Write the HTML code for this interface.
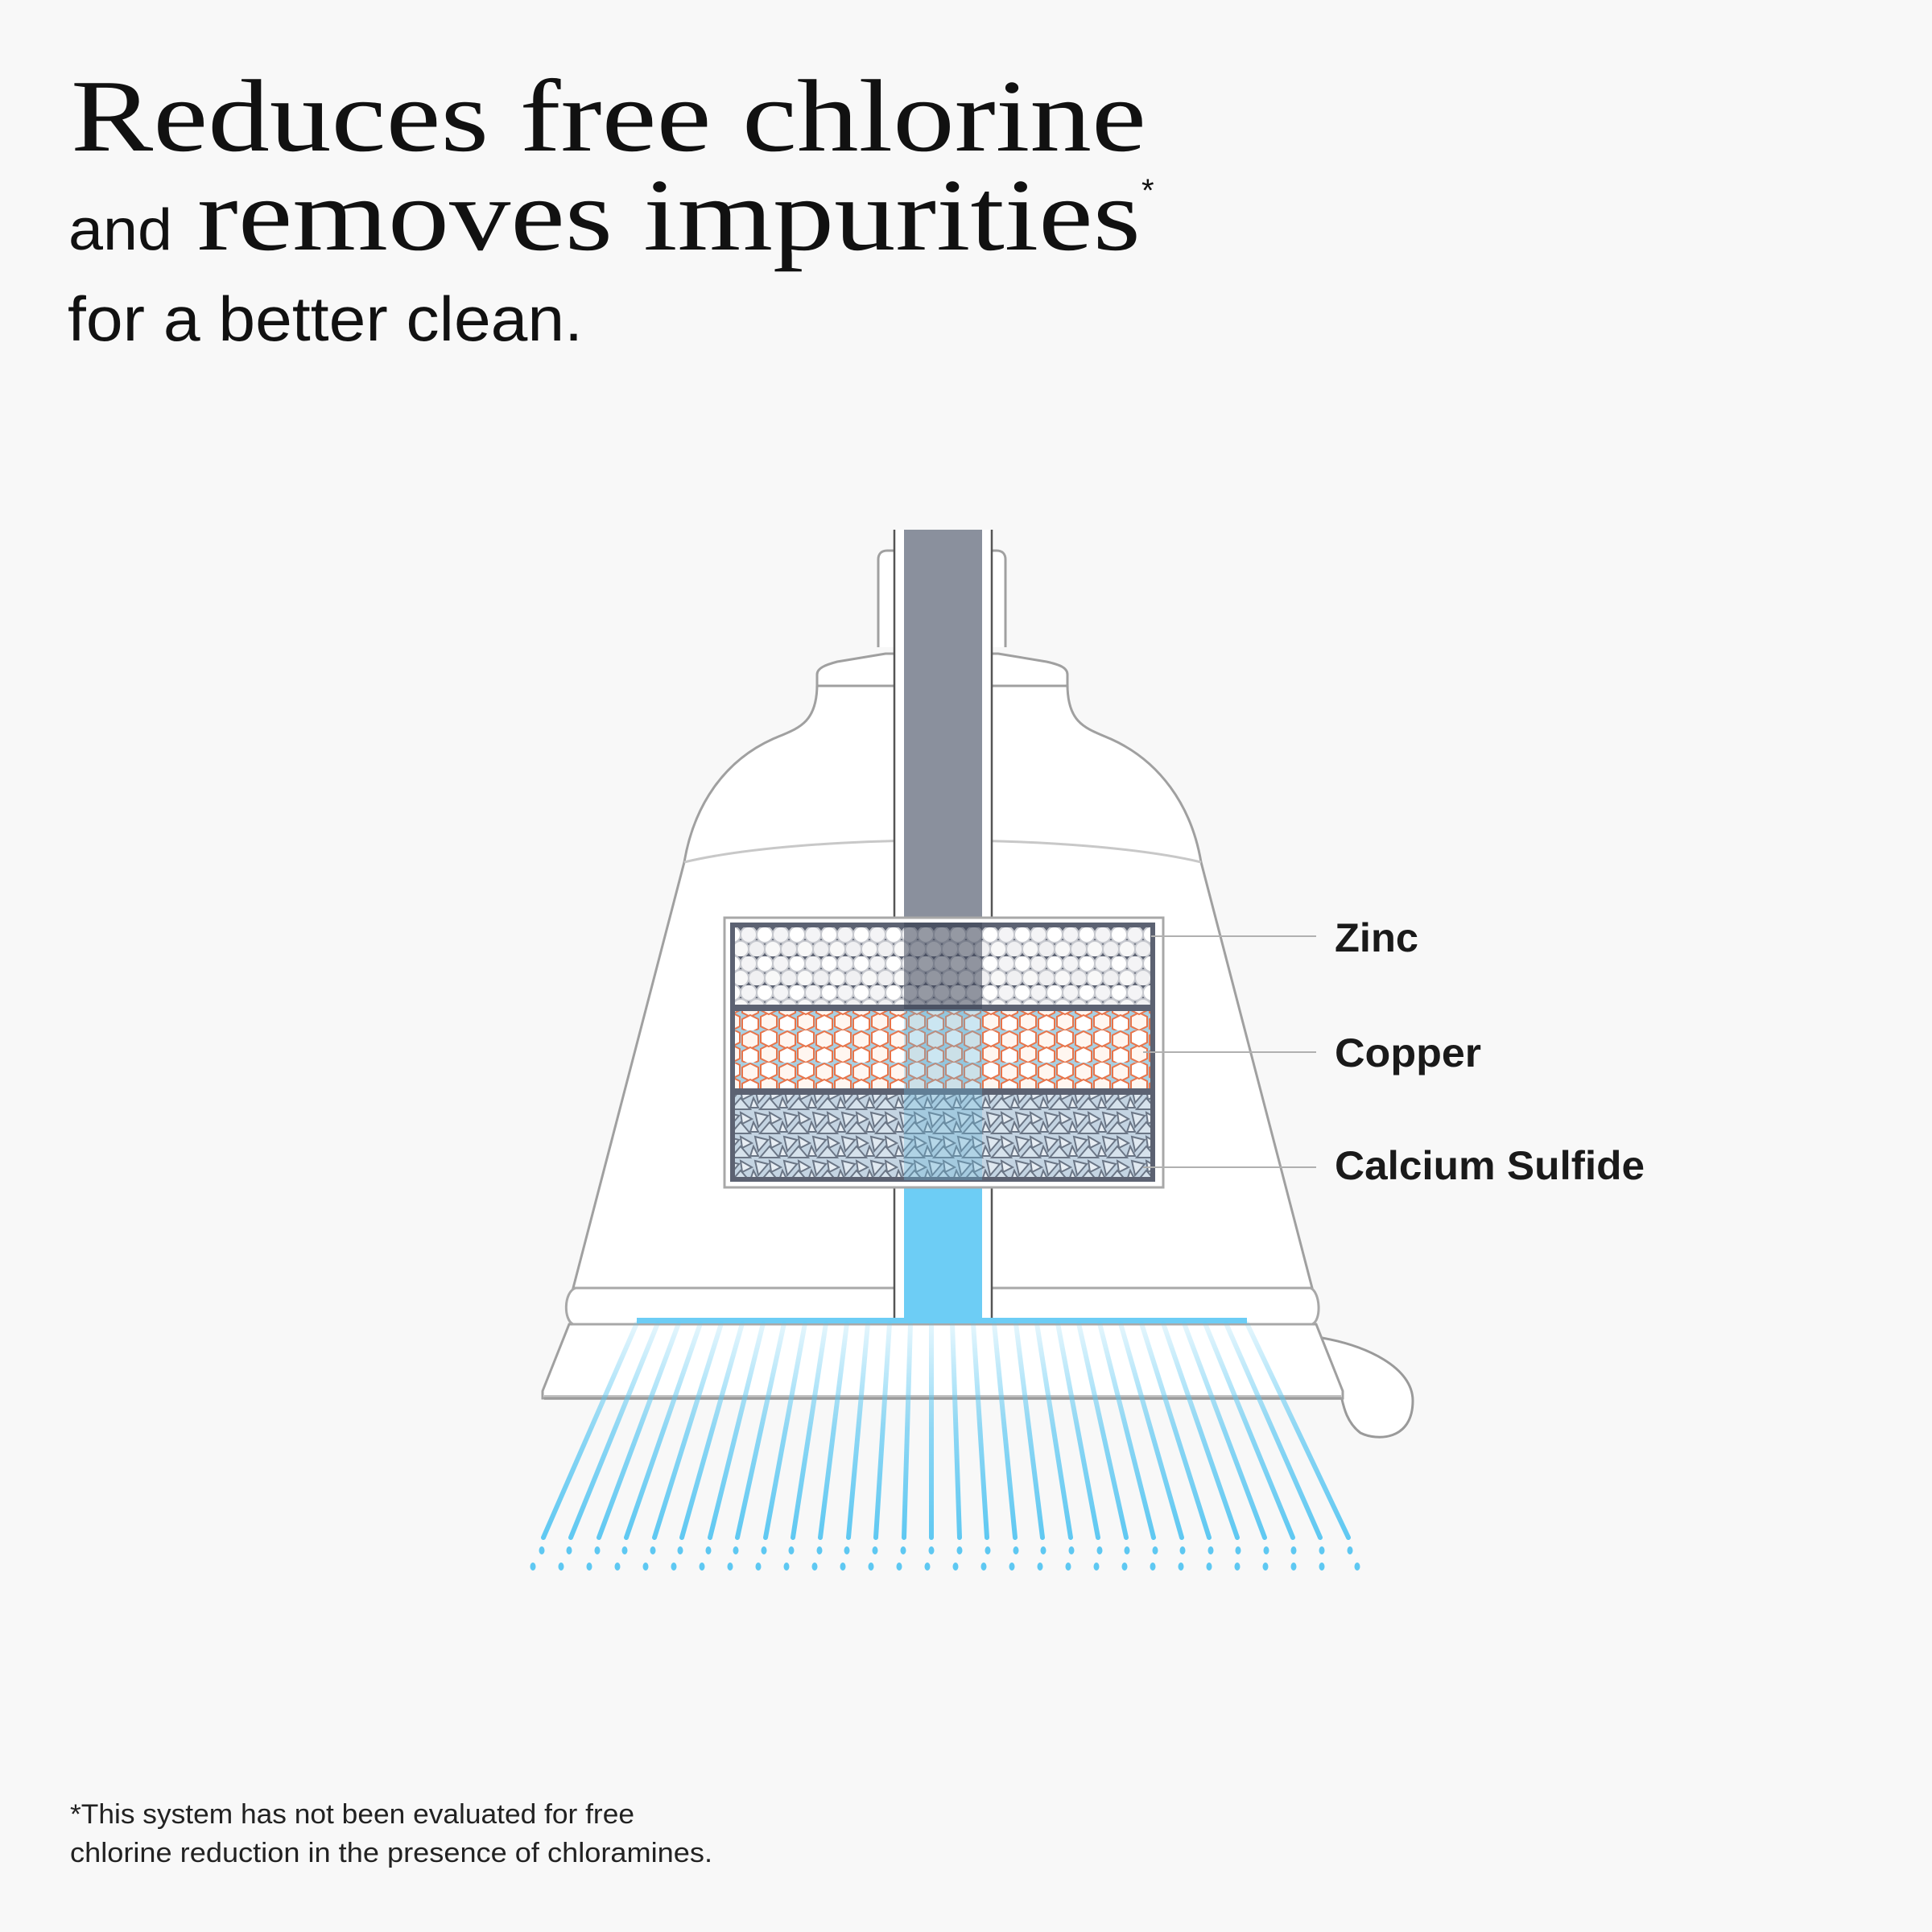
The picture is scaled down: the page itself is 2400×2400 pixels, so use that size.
<!DOCTYPE html>
<html><head><meta charset="utf-8"><style>
html,body{margin:0;padding:0;background:#f8f8f8}
svg{display:block}
</style></head><body>
<svg width="2400" height="2400" viewBox="0 0 2400 2400" xmlns="http://www.w3.org/2000/svg">
<defs>
<pattern id="zinc" width="40" height="36" patternUnits="userSpaceOnUse">
<rect width="40" height="36" fill="#5d6373"/>
<circle cx="10" cy="9" r="10" fill="#f4f4f6" stroke="#c8cad0" stroke-width="2"/>
<circle cx="30" cy="9" r="10" fill="#ffffff" stroke="#c8cad0" stroke-width="2"/>
<circle cx="20" cy="27" r="10" fill="#f0f0f2" stroke="#c8cad0" stroke-width="2"/>
<circle cx="0" cy="27" r="10" fill="#f8f8f8" stroke="#c8cad0" stroke-width="2"/>
<circle cx="40" cy="27" r="10" fill="#f8f8f8" stroke="#c8cad0" stroke-width="2"/>
</pattern>
<pattern id="copper" width="46" height="40" patternUnits="userSpaceOnUse">
<rect width="46" height="40" fill="#a8d0e2"/>
<polygon points="12,1 22,6 22,18 12,23 2,18 2,6" fill="#fff6f0" stroke="#e8744a" stroke-width="2"/>
<polygon points="35,18 45,23 45,35 35,40 25,35 25,23" fill="#fff6f0" stroke="#e8744a" stroke-width="2"/>
<polygon points="12,21 22,26 22,38 12,43 2,38 2,26" fill="#ffffff" stroke="#e8744a" stroke-width="2"/>
<polygon points="35,-2 45,3 45,15 35,20 25,15 25,3" fill="#ffffff" stroke="#e8744a" stroke-width="2"/>
</pattern>
<pattern id="calc" width="36" height="30" patternUnits="userSpaceOnUse">
<rect width="36" height="30" fill="#c4d4e2"/>
<polygon points="2,2 18,6 6,20" fill="#dfe8f0" stroke="#6a7585" stroke-width="2"/>
<polygon points="20,2 34,10 22,16" fill="#e8eef4" stroke="#6a7585" stroke-width="2"/>
<polygon points="8,28 20,14 32,28" fill="#d6e2ec" stroke="#6a7585" stroke-width="2"/>
<polygon points="0,14 6,26 -4,26" fill="#e8eef4" stroke="#6a7585" stroke-width="2"/>
<polygon points="36,14 42,26 32,26" fill="#e8eef4" stroke="#6a7585" stroke-width="2"/>
</pattern>
<linearGradient id="sprayg" x1="0" y1="1641" x2="0" y2="1915" gradientUnits="userSpaceOnUse">
<stop offset="0" stop-color="#5ec8f2" stop-opacity="0.15"/>
<stop offset="0.5" stop-color="#5ec8f2" stop-opacity="0.7"/>
<stop offset="1" stop-color="#5ec8f2" stop-opacity="1"/>
</linearGradient>
</defs>
<rect width="2400" height="2400" fill="#f8f8f8"/>

<!-- title -->
<text x="88" y="187" font-family="Liberation Serif, serif" font-size="128" fill="#111" textLength="1336" lengthAdjust="spacingAndGlyphs">Reduces free chlorine</text>
<text x="85" y="310" font-family="Liberation Sans, sans-serif" font-size="72" fill="#111" textLength="129" lengthAdjust="spacingAndGlyphs">and</text>
<text x="245" y="310" font-family="Liberation Serif, serif" font-size="128" fill="#111" textLength="1172" lengthAdjust="spacingAndGlyphs">removes impurities</text>
<text x="1418" y="250" font-family="Liberation Sans, sans-serif" font-size="40" fill="#111">*</text>
<text x="84" y="423" font-family="Liberation Sans, sans-serif" font-size="78" fill="#111" textLength="640" lengthAdjust="spacingAndGlyphs">for a better clean.</text>

<!-- spray lines -->
<g stroke="url(#sprayg)" stroke-width="6" stroke-linecap="round">
<script>/* no script */</script>
</g>
<g id="spray"></g>

<!-- handle -->
<path d="M1630,1660 C1700,1670 1755,1700 1755,1740 C1755,1790 1710,1790 1690,1780 C1670,1765 1668,1740 1665,1730" fill="#fff" stroke="#9a9a9a" stroke-width="3"/>

<!-- skirt -->
<path d="M707,1645 L1635,1645 L1668,1728 L1668,1737 L674,1737 L674,1728 Z" fill="#fff" stroke="#a0a0a0" stroke-width="3"/>
<line x1="676" y1="1736" x2="1666" y2="1736" stroke="#999" stroke-width="6" opacity="0.6"/>

<!-- bell body -->
<path d="M1015,850 C1015,900 990,905 960,918 C900,945 862,1000 850,1071 L712,1600 L1630,1600 L1492,1071 C1480,1000 1440,945 1380,918 C1350,905 1326,900 1326,850 Z" fill="#fff" stroke="#a0a0a0" stroke-width="3"/>
<path d="M850,1071 C1000,1035 1340,1035 1492,1071" fill="none" stroke="#c8c8c8" stroke-width="3"/>
<!-- ring -->
<path d="M715,1600 L1628,1600 C1640,1605 1642,1640 1630,1645 L712,1645 C700,1640 700,1605 715,1600 Z" fill="#fff" stroke="#a8a8a8" stroke-width="3"/>
<!-- shoulder cap -->
<path d="M1015,852 L1015,838 C1015,830 1025,826 1040,822 L1100,812 L1240,812 L1300,822 C1318,826 1326,830 1326,838 L1326,852 Z" fill="#fff" stroke="#a0a0a0" stroke-width="3"/>
<!-- collar -->
<path d="M1091,804 L1091,695 C1091,688 1095,684 1102,684 L1238,684 C1245,684 1249,688 1249,695 L1249,804" fill="#fff" stroke="#a0a0a0" stroke-width="3"/>

<!-- pipe -->
<rect x="1111" y="658" width="121" height="985" fill="#fff"/>
<line x1="1111" y1="658" x2="1111" y2="1643" stroke="#555" stroke-width="2.5"/>
<line x1="1232" y1="658" x2="1232" y2="1643" stroke="#555" stroke-width="2.5"/>
<rect x="1123" y="658" width="97" height="500" fill="#8a909d"/>
<rect x="1123" y="1466" width="97" height="177" fill="#6dcdf5"/>

<!-- filter -->
<rect x="900" y="1140" width="545" height="335" fill="#fff" stroke="#a8a8a8" stroke-width="3"/>
<rect x="907" y="1146" width="528" height="322" fill="#5c6272"/>
<rect x="913" y="1152" width="516" height="96" fill="url(#zinc)"/>
<rect x="913" y="1256" width="516" height="96" fill="url(#copper)"/>
<rect x="913" y="1360" width="516" height="102" fill="url(#calc)"/>
<rect x="1123" y="1146" width="97" height="108" fill="#3e4658" opacity="0.55"/>
<rect x="1123" y="1254" width="97" height="212" fill="#6ab8da" opacity="0.35"/>

<!-- leaders -->
<g stroke="#b0b0b0" stroke-width="2">
<line x1="1430" y1="1163" x2="1635" y2="1163"/>
<line x1="1420" y1="1307" x2="1635" y2="1307"/>
<line x1="1420" y1="1450" x2="1635" y2="1450"/>
</g>
<g font-family="Liberation Sans, sans-serif" font-weight="bold" font-size="50" fill="#1a1a1a">
<text x="1658" y="1182" textLength="104" lengthAdjust="spacingAndGlyphs">Zinc</text>
<text x="1658" y="1325" textLength="182" lengthAdjust="spacingAndGlyphs">Copper</text>
<text x="1658" y="1465" textLength="385" lengthAdjust="spacingAndGlyphs">Calcium Sulfide</text>
</g>

<!-- spray bar -->
<rect x="791" y="1637" width="758" height="7" fill="#6dcdf5"/>
<g stroke="url(#sprayg)" stroke-width="6" stroke-linecap="round">
<line x1="791" y1="1644" x2="675" y2="1910"/><line x1="817" y1="1644" x2="709" y2="1910"/><line x1="843" y1="1644" x2="744" y2="1910"/><line x1="870" y1="1644" x2="778" y2="1910"/><line x1="896" y1="1644" x2="813" y2="1910"/><line x1="922" y1="1644" x2="847" y2="1910"/><line x1="948" y1="1644" x2="882" y2="1910"/><line x1="974" y1="1644" x2="916" y2="1910"/><line x1="1000" y1="1644" x2="951" y2="1910"/><line x1="1026" y1="1644" x2="985" y2="1910"/><line x1="1052" y1="1644" x2="1019" y2="1910"/><line x1="1078" y1="1644" x2="1054" y2="1910"/><line x1="1105" y1="1644" x2="1088" y2="1910"/><line x1="1131" y1="1644" x2="1123" y2="1910"/><line x1="1157" y1="1644" x2="1157" y2="1910"/><line x1="1183" y1="1644" x2="1192" y2="1910"/><line x1="1209" y1="1644" x2="1226" y2="1910"/><line x1="1235" y1="1644" x2="1261" y2="1910"/><line x1="1262" y1="1644" x2="1295" y2="1910"/><line x1="1288" y1="1644" x2="1330" y2="1910"/><line x1="1314" y1="1644" x2="1364" y2="1910"/><line x1="1340" y1="1644" x2="1399" y2="1910"/><line x1="1366" y1="1644" x2="1433" y2="1910"/><line x1="1392" y1="1644" x2="1468" y2="1910"/><line x1="1418" y1="1644" x2="1502" y2="1910"/><line x1="1445" y1="1644" x2="1537" y2="1910"/><line x1="1471" y1="1644" x2="1571" y2="1910"/><line x1="1497" y1="1644" x2="1606" y2="1910"/><line x1="1523" y1="1644" x2="1640" y2="1910"/><line x1="1549" y1="1644" x2="1675" y2="1910"/>
</g>
<g fill="#5ec8f2">
<ellipse cx="673" cy="1926" rx="3.5" ry="5"/><ellipse cx="707" cy="1926" rx="3.5" ry="5"/><ellipse cx="742" cy="1926" rx="3.5" ry="5"/><ellipse cx="776" cy="1926" rx="3.5" ry="5"/><ellipse cx="811" cy="1926" rx="3.5" ry="5"/><ellipse cx="845" cy="1926" rx="3.5" ry="5"/><ellipse cx="880" cy="1926" rx="3.5" ry="5"/><ellipse cx="914" cy="1926" rx="3.5" ry="5"/><ellipse cx="949" cy="1926" rx="3.5" ry="5"/><ellipse cx="983" cy="1926" rx="3.5" ry="5"/><ellipse cx="1018" cy="1926" rx="3.5" ry="5"/><ellipse cx="1052" cy="1926" rx="3.5" ry="5"/><ellipse cx="1087" cy="1926" rx="3.5" ry="5"/><ellipse cx="1122" cy="1926" rx="3.5" ry="5"/><ellipse cx="1157" cy="1926" rx="3.5" ry="5"/><ellipse cx="1192" cy="1926" rx="3.5" ry="5"/><ellipse cx="1227" cy="1926" rx="3.5" ry="5"/><ellipse cx="1262" cy="1926" rx="3.5" ry="5"/><ellipse cx="1296" cy="1926" rx="3.5" ry="5"/><ellipse cx="1331" cy="1926" rx="3.5" ry="5"/><ellipse cx="1366" cy="1926" rx="3.5" ry="5"/><ellipse cx="1400" cy="1926" rx="3.5" ry="5"/><ellipse cx="1435" cy="1926" rx="3.5" ry="5"/><ellipse cx="1469" cy="1926" rx="3.5" ry="5"/><ellipse cx="1504" cy="1926" rx="3.5" ry="5"/><ellipse cx="1538" cy="1926" rx="3.5" ry="5"/><ellipse cx="1573" cy="1926" rx="3.5" ry="5"/><ellipse cx="1607" cy="1926" rx="3.5" ry="5"/><ellipse cx="1642" cy="1926" rx="3.5" ry="5"/><ellipse cx="1677" cy="1926" rx="3.5" ry="5"/>
<ellipse cx="662" cy="1946" rx="3.5" ry="5"/><ellipse cx="697" cy="1946" rx="3.5" ry="5"/><ellipse cx="732" cy="1946" rx="3.5" ry="5"/><ellipse cx="767" cy="1946" rx="3.5" ry="5"/><ellipse cx="802" cy="1946" rx="3.5" ry="5"/><ellipse cx="837" cy="1946" rx="3.5" ry="5"/><ellipse cx="872" cy="1946" rx="3.5" ry="5"/><ellipse cx="907" cy="1946" rx="3.5" ry="5"/><ellipse cx="942" cy="1946" rx="3.5" ry="5"/><ellipse cx="977" cy="1946" rx="3.5" ry="5"/><ellipse cx="1012" cy="1946" rx="3.5" ry="5"/><ellipse cx="1047" cy="1946" rx="3.5" ry="5"/><ellipse cx="1082" cy="1946" rx="3.5" ry="5"/><ellipse cx="1117" cy="1946" rx="3.5" ry="5"/><ellipse cx="1152" cy="1946" rx="3.5" ry="5"/><ellipse cx="1187" cy="1946" rx="3.5" ry="5"/><ellipse cx="1222" cy="1946" rx="3.5" ry="5"/><ellipse cx="1257" cy="1946" rx="3.5" ry="5"/><ellipse cx="1292" cy="1946" rx="3.5" ry="5"/><ellipse cx="1327" cy="1946" rx="3.5" ry="5"/><ellipse cx="1362" cy="1946" rx="3.5" ry="5"/><ellipse cx="1397" cy="1946" rx="3.5" ry="5"/><ellipse cx="1432" cy="1946" rx="3.5" ry="5"/><ellipse cx="1467" cy="1946" rx="3.5" ry="5"/><ellipse cx="1502" cy="1946" rx="3.5" ry="5"/><ellipse cx="1537" cy="1946" rx="3.5" ry="5"/><ellipse cx="1572" cy="1946" rx="3.5" ry="5"/><ellipse cx="1607" cy="1946" rx="3.5" ry="5"/><ellipse cx="1642" cy="1946" rx="3.5" ry="5"/><ellipse cx="1686" cy="1946" rx="3.5" ry="5"/>
</g>

<!-- footnote -->
<g font-family="Liberation Sans, sans-serif" font-size="34" fill="#222">
<text x="87" y="2265" textLength="701" lengthAdjust="spacingAndGlyphs">*This system has not been evaluated for free</text>
<text x="87" y="2313" textLength="798" lengthAdjust="spacingAndGlyphs">chlorine reduction in the presence of chloramines.</text>
</g>
</svg>
</body></html>
